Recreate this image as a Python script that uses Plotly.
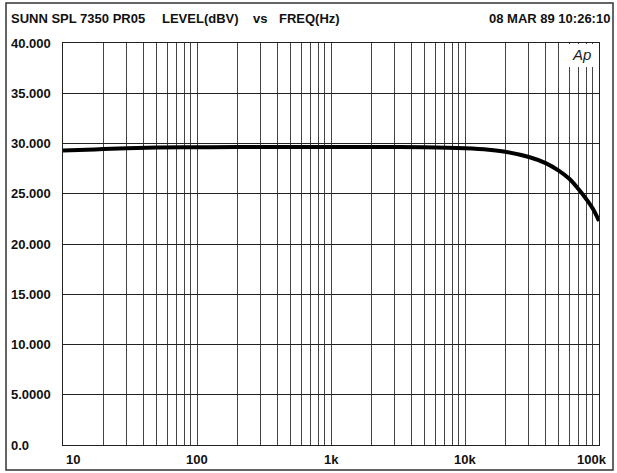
import math
import plotly.graph_objects as go

# frequency response (Hz, dBV)
freq_hz = [10, 15, 20, 30, 50, 100, 200, 500, 1000, 2000, 5000, 10000,
           15000, 20000, 30000, 40000, 50000, 60000, 70000, 80000, 90000, 100000]
level_dbv = [29.3, 29.38, 29.45, 29.53, 29.6, 29.63, 29.65, 29.65, 29.65, 29.65, 29.62, 29.52,
             29.38, 29.18, 28.66, 28.05, 27.3, 26.5, 25.5, 24.5, 23.5, 22.3]

# grid / tick definitions
x_grid = [m * 10 ** e for e in range(1, 5) for m in range(1, 10)] + [100000]
x_tick_vals = [10, 100, 1000, 10000, 100000]
x_tick_text = ["10", "100", "1k", "10k", "100k"]
y_tick_vals = [40, 35, 30, 25, 20, 15, 10, 5, 0]
y_tick_text = ["40.000", "35.000", "30.000", "25.000", "20.000", "15.000", "10.000", "5.0000", "0.0"]

W, H = 617, 473
L, R, T, B = 63, 599, 43, 445  # plot area in pixels


def px_x(p):
    return (p - L) / (R - L)


def px_y(p):
    return (B - p) / (B - T)


lab_font = dict(family="Liberation Sans, Arial", size=13, color="#111")

fig = go.Figure()
fig.add_trace(go.Scatter(
    x=freq_hz, y=level_dbv, mode="lines",
    line=dict(color="black", width=4, shape="spline", smoothing=1.0),
    hoverinfo="x+y", showlegend=False,
))

fig.update_xaxes(
    type="log", range=[1, 5], tickvals=x_grid, showticklabels=False, ticks="",
    showgrid=True, gridcolor="#444", gridwidth=1, zeroline=False,
    showline=True, linecolor="#222", linewidth=1, mirror=True,
)
fig.update_yaxes(
    range=[0, 40], tickvals=y_tick_vals, showticklabels=False, ticks="",
    showgrid=True, gridcolor="#222", gridwidth=1.3, zeroline=False,
    showline=True, linecolor="#222", linewidth=1, mirror=True,
)

ann = []
# y tick labels, left aligned near the page edge
for v, t in zip(y_tick_vals, y_tick_text):
    py = B - v * (B - T) / 40
    ann.append(dict(x=px_x(9), y=px_y(py), xref="paper", yref="paper", text="<b>%s</b>" % t,
                    showarrow=False, xanchor="left", yanchor="middle", font=lab_font))
# x tick labels
for v, t in zip(x_tick_vals, x_tick_text):
    if v == 10:
        xa, xp = "left", 64
    elif v == 100000:
        xa, xp = "right", 609
    else:
        xa, xp = "center", L + (math.log10(v) - 1) * (R - L) / 4
    ann.append(dict(x=px_x(xp), y=px_y(459), xref="paper", yref="paper", text="<b>%s</b>" % t,
                    showarrow=False, xanchor=xa, yanchor="middle", font=lab_font))
# header
header = [("SUNN SPL 7350 PR05", 9, "left"), ("LEVEL(dBV)", 160, "left"),
          ("vs", 251, "left"), ("FREQ(Hz)", 277, "left"),
          ("08 MAR 89 10:26:10", 612, "right")]
for t, xp, xa in header:
    ann.append(dict(x=px_x(xp), y=px_y(18), xref="paper", yref="paper",
                    text="<b>%s</b>" % t, showarrow=False, xanchor=xa,
                    yanchor="middle", font=lab_font))
# Ap logo
ann.append(dict(x=px_x(581), y=px_y(55), xref="paper", yref="paper",
                text="<i>Ap</i>", showarrow=False, xanchor="center", yanchor="middle",
                font=dict(family="Liberation Sans, Arial", size=15, color="#222")))

shapes = [
    # white patch behind the Ap logo
    dict(type="rect", xref="paper", yref="paper", x0=px_x(562), x1=px_x(598.5),
         y0=px_y(67), y1=px_y(44), fillcolor="white", line=dict(width=0), layer="above"),
    # outer page frame
    dict(type="rect", xref="paper", yref="paper", x0=px_x(6), x1=px_x(613),
         y0=px_y(470), y1=px_y(3), line=dict(color="#333", width=1.5)),
]

fig.update_layout(
    width=W, height=H,
    margin=dict(l=L, r=W - R, t=T, b=H - B),
    paper_bgcolor="white", plot_bgcolor="white",
    annotations=ann, shapes=shapes,
)

fig.write_html("out.html", config={"displayModeBar": False},
               post_script="document.body.style.margin='0';")
